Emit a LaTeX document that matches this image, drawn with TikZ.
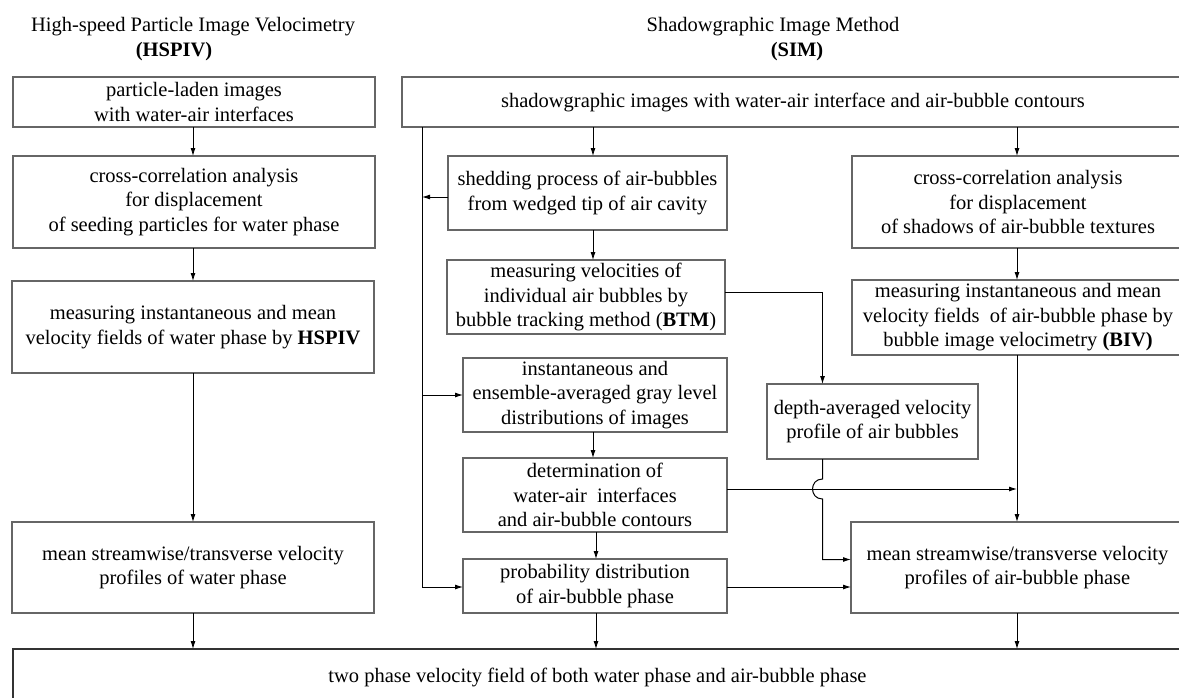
\documentclass[tikz,border=0pt]{standalone}
\usepackage{fontspec}
\setmainfont{Liberation Serif}
\usetikzlibrary{arrows.meta,calc}
\begin{document}
\begin{tikzpicture}[x=1pt,y=-1pt,
  box/.style={draw=black!60,line width=1.2pt,inner sep=0pt,outer sep=0pt,align=center,
    font=\fontsize{20.5}{24.5}\selectfont},
  ttl/.style={inner sep=0pt,font=\fontsize{20.5}{24.5}\selectfont},
  arr/.style={draw=black,line width=0.9pt,-{Latex[length=8pt,width=5pt]}},
  ln/.style={draw=black,line width=0.9pt}]
\clip (0,0) rectangle (1179,697);
\fill[white] (0,0) rectangle (1179,697);
% titles
\node[ttl] (t1) at (193,27) {High-speed Particle Image Velocimetry};
\node[ttl] (t1b) at (174,52) {\textbf{(HSPIV)}};
\node[ttl] (t2) at (773,27) {Shadowgraphic Image Method};
\node[ttl] (t2b) at (797,52) {\textbf{(SIM)}};
% left column
\node[box,minimum width=362,minimum height=50] (L1) at (194,102) {particle-laden images\\with water-air interfaces};
\node[box,minimum width=362,minimum height=92] (L2) at (194,202) {cross-correlation analysis\\for displacement\\of seeding particles for water phase};
\node[box,minimum width=362,minimum height=92] (L3) at (193,327) {measuring instantaneous and mean\\velocity fields of water phase by \textbf{HSPIV}};
\node[box,minimum width=362,minimum height=91] (L4) at (193,567.5) {mean streamwise/transverse velocity\\profiles of water phase};
% SIM
\node[box,minimum width=782,minimum height=50] (S0) at (793,102) {shadowgraphic images with water-air interface and air-bubble contours};
\node[box,minimum width=279,minimum height=74] (shed) at (587.5,193) {shedding process of air-bubbles\\from wedged tip of air cavity};
\node[box,minimum width=278,minimum height=74] (BTM) at (586,297) {measuring velocities of\\individual air bubbles by\\bubble tracking method (\textbf{BTM})};
\node[box,minimum width=264,minimum height=74] (inst) at (595,395) {instantaneous and\\ensemble-averaged gray level\\distributions of images};
\node[box,minimum width=264,minimum height=74] (det) at (595,495) {determination of\\water-air\ \ interfaces\\and air-bubble contours};
\node[box,minimum width=264,minimum height=54] (prob) at (595,586) {probability distribution\\of air-bubble phase};
\node[box,minimum width=211,minimum height=75] (depth) at (872.5,421.5) {depth-averaged velocity\\profile of air bubbles};
\node[box,minimum width=332,minimum height=92] (cS) at (1018,202) {cross-correlation analysis\\for displacement\\of shadows of air-bubble textures};
\node[box,minimum width=332,minimum height=75] (BIV) at (1018,317.5) {measuring instantaneous and mean\\velocity fields\ \ of air-bubble phase by\\bubble image velocimetry \textbf{(BIV)}};
\node[box,minimum width=333,minimum height=91] (mS) at (1017.5,567.5) {mean streamwise/transverse velocity\\profiles of air-bubble phase};
\node[box,draw=black!80,minimum width=1169,minimum height=56] (B) at (597.5,677) {two phase velocity field of both water phase and air-bubble phase};
% helper coordinates
\coordinate (xL) at (193,0);
\coordinate (xS) at (593,0);
\coordinate (xS2) at (596,0);
\coordinate (xR) at (1017,0);
\coordinate (xD) at (822.5,0);
\coordinate (xV) at (422,0);
\coordinate (yShed) at (0,197);
\coordinate (yInst) at (0,395);
\coordinate (yProb) at (0,587);
\coordinate (yBTM) at (0,292);
\coordinate (yDet) at (0,489);
\coordinate (yMean) at (0,559.5);
% left connectors
\draw[arr] (L1.south -| xL) -- (L2.north -| xL);
\draw[arr] (L2.south -| xL) -- (L3.north -| xL);
\draw[arr] (L3.south -| xL) -- (L4.north -| xL);
\draw[arr] (L4.south -| xL) -- (B.north -| xL);
% SIM middle
\draw[arr] (S0.south -| xS) -- (shed.north -| xS);
\draw[arr] (shed.south -| xS) -- (BTM.north -| xS);
\draw[arr] (inst.south -| xS) -- (det.north -| xS);
\draw[arr] (det.south -| xS2) -- (prob.north -| xS2);
\draw[arr] (prob.south -| xS2) -- (B.north -| xS2);
% left bus line
\draw[arr] (S0.south -| xV) -- (yProb -| xV) -- (yProb -| prob.west);
\draw[arr] (yInst -| xV) -- (yInst -| inst.west);
\draw[arr] (yShed -| shed.west) -- (yShed -| xV);
% BTM to depth
\draw[arr] (yBTM -| BTM.east) -- (yBTM -| xD) -- (depth.north -| xD);
% depth to mean with jump
\draw[arr,line width=1pt] (depth.south -| xD) -- ($(yDet -| xD)+(0,-10)$) .. controls +(-13.3,0) and +(-13.3,0) .. ($(yDet -| xD)+(0,10)$) -- (yMean -| xD) -- (yMean -| mS.west);
% det to BIV line
\draw[arr] (yDet -| det.east) -- (yDet -| xR);
% prob to mean
\draw[arr] (yProb -| prob.east) -- (yProb -| mS.west);
% right column
\draw[arr] (S0.south -| xR) -- (cS.north -| xR);
\draw[arr] (cS.south -| xR) -- (BIV.north -| xR);
\draw[arr] (BIV.south -| xR) -- (mS.north -| xR);
\draw[arr] (mS.south -| xR) -- (B.north -| xR);
\end{tikzpicture}
\end{document}
